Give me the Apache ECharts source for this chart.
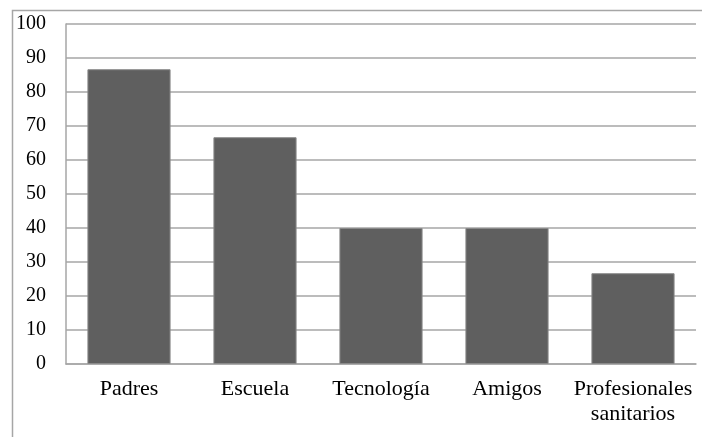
<!DOCTYPE html>
<html>
<head>
<meta charset="utf-8">
<script src="https://cdn.jsdelivr.net/npm/echarts@6/dist/echarts.min.js"></script>
<style>html,body{margin:0;padding:0;background:#fff}#c{width:702px;height:437px}</style>
</head>
<body>
<div id="c"></div>
<script>
var categories = ['Padres', 'Escuela', 'Tecnología', 'Amigos', 'Profesionales\nsanitarios'];
var values = [86.7, 66.7, 40, 40, 26.7];
var yTicks = {min: 0, max: 100, interval: 10};

var chart = echarts.init(document.getElementById('c'), null, {renderer: 'canvas'});
chart.setOption({
  animation: false,
  backgroundColor: '#fff',
  graphic: [{
    type: 'rect', z: -10,
    shape: {x: 12.5, y: 10.5, width: 800, height: 800},
    style: {fill: 'none', stroke: '#a6a6a6', lineWidth: 1.5}
  }],
  grid: {left: 66, right: 6, top: 24, bottom: 73, containLabel: false},
  xAxis: {
    type: 'category',
    data: categories,
    axisLine: {lineStyle: {color: '#a6a6a6', width: 1.5}},
    axisTick: {show: false},
    axisLabel: {color: '#000', fontFamily: 'Liberation Serif', fontSize: 22, margin: 13, lineHeight: 25, interval: 0}
  },
  yAxis: {
    type: 'value',
    min: yTicks.min, max: yTicks.max, interval: yTicks.interval,
    axisLine: {show: true, lineStyle: {color: '#a6a6a6', width: 1.5}},
    axisTick: {show: false},
    splitLine: {lineStyle: {color: '#a6a6a6', width: 1.5}},
    axisLabel: {color: '#000', fontFamily: 'Liberation Serif', fontSize: 20, margin: 20}
  },
  series: [{
    type: 'bar',
    data: values,
    barWidth: '66%',
    itemStyle: {color: '#5f5f5f', borderColor: '#8a8a8a', borderWidth: 1}
  }]
});
</script>
</body>
</html>
